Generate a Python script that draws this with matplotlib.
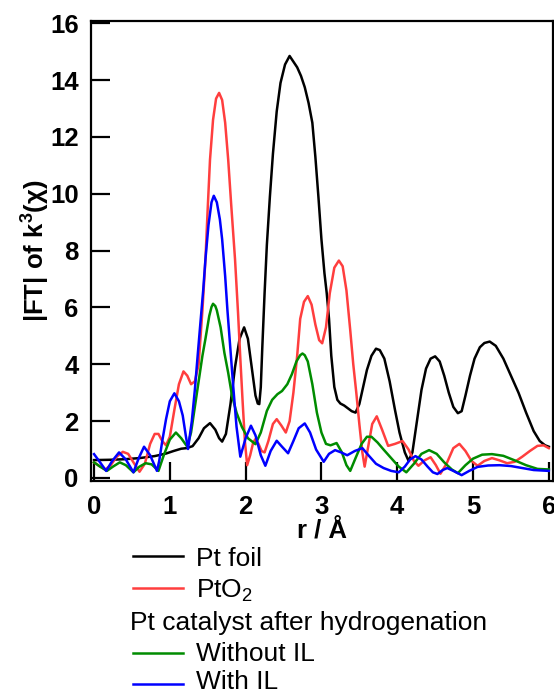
import matplotlib
matplotlib.use('Agg')
import matplotlib.pyplot as plt
from matplotlib.lines import Line2D

plt.rcParams['font.family'] = ['Liberation Sans', 'DejaVu Sans']
plt.rcParams['mathtext.fontset'] = 'custom'
plt.rcParams['mathtext.rm'] = 'Liberation Sans'
plt.rcParams['mathtext.bf'] = 'Liberation Sans:bold'

# Pt foil
r_foil = [0.00, 0.20, 0.40, 0.60, 0.80, 0.95, 1.05, 1.15, 1.22, 1.30, 1.38, 1.45, 1.53,
          1.60, 1.65, 1.69, 1.74, 1.80, 1.86, 1.92, 1.98, 2.03, 2.08, 2.13, 2.16, 2.18,
          2.20, 2.22, 2.25, 2.28, 2.32, 2.36, 2.41, 2.46, 2.52, 2.58, 2.63, 2.68, 2.73,
          2.78, 2.83, 2.88, 2.92, 2.96, 3.00, 3.04, 3.07, 3.10, 3.13, 3.17, 3.21, 3.25,
          3.30, 3.35, 3.40, 3.45, 3.50, 3.55, 3.60, 3.66, 3.72, 3.77, 3.83, 3.90, 3.97,
          4.03, 4.10, 4.15, 4.20, 4.26, 4.32, 4.38, 4.44, 4.50, 4.56, 4.62, 4.68, 4.74,
          4.80, 4.85, 4.90, 4.96, 5.02, 5.09, 5.15, 5.22, 5.30, 5.40, 5.50, 5.60, 5.70,
          5.80, 5.88, 5.95, 6.00]
ft_foil = [0.63, 0.64, 0.66, 0.70, 0.77, 0.86, 0.95, 1.03, 1.05, 1.12, 1.40, 1.75, 1.93,
           1.70, 1.40, 1.28, 1.55, 2.60, 3.90, 4.90, 5.30, 4.90, 3.90, 2.90, 2.62, 2.60,
           3.20, 4.60, 6.50, 8.20, 9.90, 11.40, 12.90, 13.90, 14.55, 14.85, 14.65, 14.45, 14.15,
           13.75, 13.20, 12.50, 11.30, 9.90, 8.40, 7.20, 6.50, 5.60, 4.30, 3.20, 2.75, 2.62,
           2.55, 2.45, 2.35, 2.30, 2.60, 3.20, 3.80, 4.30, 4.55, 4.50, 4.20, 3.40, 2.40,
           1.60, 0.90, 0.60, 0.90, 2.00, 3.10, 3.85, 4.20, 4.28, 4.10, 3.60, 3.00, 2.50,
           2.28, 2.35, 2.90, 3.60, 4.20, 4.60, 4.75, 4.80, 4.65, 4.20, 3.60, 3.00, 2.30,
           1.65, 1.30, 1.15, 1.10]

# PtO2
r_oxide = [0.00, 0.07, 0.15, 0.22, 0.30, 0.38, 0.45, 0.52, 0.60, 0.67, 0.74, 0.80, 0.85,
           0.90, 0.95, 1.00, 1.06, 1.12, 1.18, 1.23, 1.28, 1.33, 1.38, 1.43, 1.47, 1.50,
           1.53, 1.57, 1.61, 1.65, 1.69, 1.73, 1.77, 1.81, 1.86, 1.90, 1.93, 1.96, 1.99,
           2.02, 2.06, 2.10, 2.13, 2.17, 2.21, 2.25, 2.30, 2.36, 2.41, 2.47, 2.53, 2.58,
           2.63, 2.68, 2.72, 2.77, 2.82, 2.87, 2.92, 2.97, 3.01, 3.06, 3.11, 3.17, 3.23,
           3.28, 3.33, 3.38, 3.42, 3.46, 3.50, 3.54, 3.57, 3.61, 3.67, 3.73, 3.80, 3.88,
           3.97, 4.07, 4.15, 4.22, 4.28, 4.36, 4.44, 4.51, 4.57, 4.65, 4.74, 4.82, 4.90,
           4.98, 5.06, 5.15, 5.25, 5.35, 5.45, 5.55, 5.65, 5.75, 5.85, 5.93, 6.00]
ft_oxide = [0.55, 0.42, 0.30, 0.45, 0.75, 0.92, 0.85, 0.55, 0.22, 0.50, 1.20, 1.55, 1.55,
            1.30, 1.15, 1.45, 2.40, 3.30, 3.75, 3.60, 3.30, 3.40, 4.00, 5.90, 7.70, 9.50,
            11.20, 12.60, 13.35, 13.55, 13.30, 12.50, 11.20, 9.60, 7.70, 5.80, 4.20, 2.70, 1.30,
            0.45, 0.80, 1.25, 1.37, 1.20, 0.95, 0.90, 1.30, 1.90, 2.07, 1.85, 1.60, 2.00,
            3.00, 4.30, 5.60, 6.20, 6.40, 6.10, 5.40, 4.85, 4.74, 5.30, 6.50, 7.40, 7.65,
            7.45, 6.60, 5.20, 4.00, 3.00, 1.90, 0.90, 0.40, 1.00, 1.90, 2.17, 1.70, 1.13,
            1.20, 1.30, 1.00, 0.60, 0.43, 0.62, 0.73, 0.45, 0.15, 0.50, 1.05, 1.20, 0.95,
            0.60, 0.43, 0.60, 0.70, 0.62, 0.52, 0.57, 0.75, 0.95, 1.13, 1.15, 1.05]

# Pt catalyst after hydrogenation, without IL
r_no_il = [0.00, 0.08, 0.17, 0.25, 0.34, 0.42, 0.52, 0.60, 0.68, 0.76, 0.85, 0.92, 1.00,
           1.08, 1.15, 1.23, 1.28, 1.33, 1.38, 1.43, 1.47, 1.52, 1.55, 1.57, 1.60, 1.62,
           1.67, 1.72, 1.77, 1.82, 1.88, 1.95, 2.03, 2.13, 2.20, 2.28, 2.35, 2.42, 2.48,
           2.55, 2.61, 2.67, 2.72, 2.75, 2.78, 2.82, 2.88, 2.94, 3.00, 3.06, 3.12, 3.20,
           3.27, 3.33, 3.38, 3.45, 3.53, 3.60, 3.66, 3.74, 3.82, 3.92, 4.02, 4.12, 4.22,
           4.32, 4.42, 4.52, 4.62, 4.72, 4.80, 4.90, 5.00, 5.12, 5.25, 5.40, 5.55, 5.70,
           5.85, 6.00]
ft_no_il = [0.55, 0.40, 0.25, 0.40, 0.55, 0.45, 0.20, 0.40, 0.52, 0.48, 0.25, 0.80, 1.35,
            1.60, 1.40, 1.10, 1.60, 2.50, 3.40, 4.30, 4.90, 5.70, 6.02, 6.13, 6.05, 5.90,
            5.30, 4.40, 3.70, 2.90, 2.30, 1.80, 1.40, 1.19, 1.60, 2.36, 2.75, 2.95, 3.06,
            3.30, 3.65, 4.10, 4.32, 4.38, 4.32, 4.10, 3.30, 2.30, 1.60, 1.20, 1.15, 1.23,
            0.90, 0.45, 0.25, 0.70, 1.20, 1.45, 1.45, 1.25, 1.00, 0.70, 0.40, 0.20, 0.50,
            0.85, 0.98, 0.85, 0.55, 0.30, 0.17, 0.45, 0.68, 0.82, 0.84, 0.78, 0.62, 0.45,
            0.32, 0.30]

# Pt catalyst after hydrogenation, with IL
r_il = [0.00, 0.08, 0.16, 0.24, 0.33, 0.42, 0.52, 0.59, 0.66, 0.74, 0.83, 0.86, 0.90,
        0.95, 1.00, 1.06, 1.12, 1.17, 1.21, 1.24, 1.29, 1.33, 1.37, 1.40, 1.44, 1.47,
        1.51, 1.55, 1.58, 1.62, 1.66, 1.69, 1.73, 1.76, 1.80, 1.84, 1.88, 1.93, 2.00,
        2.07, 2.13, 2.20, 2.26, 2.33, 2.41, 2.48, 2.56, 2.63, 2.70, 2.78, 2.85, 2.93,
        3.03, 3.10, 3.18, 3.26, 3.34, 3.44, 3.54, 3.62, 3.72, 3.82, 3.92, 4.02, 4.10,
        4.17, 4.24, 4.32, 4.40, 4.47, 4.53, 4.60, 4.66, 4.74, 4.85, 4.95, 5.06, 5.20,
        5.35, 5.50, 5.65, 5.80, 6.00]
ft_il = [0.84, 0.55, 0.25, 0.60, 0.90, 0.65, 0.20, 0.70, 1.10, 0.80, 0.25, 0.60, 1.30,
         2.07, 2.70, 2.98, 2.70, 2.20, 1.50, 1.02, 2.00, 3.10, 4.40, 5.35, 6.60, 7.70,
         8.90, 9.70, 9.93, 9.70, 9.10, 8.40, 7.10, 5.90, 4.50, 3.10, 1.80, 0.75, 1.40,
         1.84, 1.50, 0.80, 0.43, 0.95, 1.31, 1.10, 0.87, 1.30, 1.75, 1.92, 1.60, 1.00,
         0.57, 0.85, 0.98, 0.90, 0.80, 0.95, 1.05, 0.80, 0.50, 0.35, 0.25, 0.20, 0.40,
         0.65, 0.77, 0.65, 0.40, 0.20, 0.14, 0.28, 0.35, 0.25, 0.10, 0.25, 0.39, 0.44,
         0.45, 0.42, 0.35, 0.28, 0.25]

x_ticks = [0, 1, 2, 3, 4, 5, 6]
y_ticks = [0, 2, 4, 6, 8, 10, 12, 14, 16]

W, H = 554, 693
fig = plt.figure(figsize=(W / 100, H / 100), dpi=100)
ax = fig.add_axes([91 / W, 1 - 481 / H, 462 / W, 460 / H])

lw = 1.8
l_foil, = ax.plot(r_foil, ft_foil, color='black', lw=lw)
l_oxide, = ax.plot(r_oxide, ft_oxide, color='#FF3E3E', lw=lw)
l_no_il, = ax.plot(r_no_il, ft_no_il, color='#008C00', lw=lw)
l_il, = ax.plot(r_il, ft_il, color='#0000FF', lw=lw)

ax.set_xlim(-0.04, 6.055)
ax.set_ylim(-0.106, 16.08)
ax.set_xticks(x_ticks)
ax.set_yticks(y_ticks)
ax.tick_params(direction='in', length=14, width=1.6, labelsize=18.5)
ax.tick_params(axis='x', pad=10)
ax.tick_params(axis='y', pad=9)
for lab in ax.get_xticklabels() + ax.get_yticklabels():
    lab.set_fontweight('bold')
for sp in ax.spines.values():
    sp.set_linewidth(1.6)

ax.set_xlabel('r / Å', fontsize=18.5, fontweight='bold', labelpad=0)
ax.set_ylabel(r'|FT| of k$^{\mathbf{3}}$(χ)', fontsize=18.5, fontweight='bold', labelpad=-1)

# legend drawn below the axes
fs_leg = 19
def key(line, y_line, label, y_base):
    fig.add_artist(Line2D([133 / W, 183 / W], [1 - y_line / H, 1 - y_line / H],
                          color=line.get_color(), lw=lw, transform=fig.transFigure))
    fig.text(196 / W, 1 - y_base / H, label, fontsize=fs_leg, va='baseline', ha='left')

key(l_foil, 556, 'Pt foil', 565.5)
key(l_oxide, 588, r'PtO$_\mathrm{2}$', 597)
fig.text(130 / W, 1 - 630 / H, 'Pt catalyst after hydrogenation', fontsize=fs_leg,
         va='baseline', ha='left')
key(l_no_il, 653, 'Without IL', 661)
key(l_il, 684, 'With IL', 689)

fig.savefig('out.png', dpi=100)
